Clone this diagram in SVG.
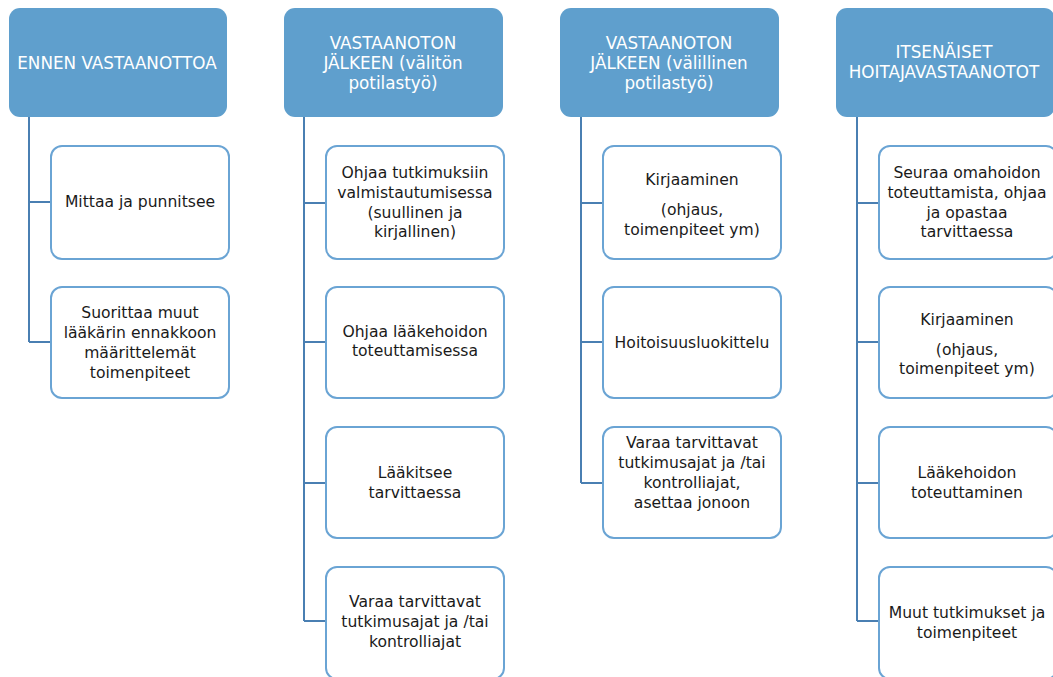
<svg xmlns="http://www.w3.org/2000/svg" width="1053" height="677" viewBox="0 0 1053 677">
<style>
.hdr{fill:#5f9fcd;}
.box{fill:#ffffff;stroke:#6aa4d4;stroke-width:2;}
.ht{font-family:"DejaVu Sans","Liberation Sans",sans-serif;font-size:16.8px;fill:#ffffff;text-anchor:middle;dominant-baseline:central;}
.bt{font-family:"DejaVu Sans","Liberation Sans",sans-serif;font-size:15.6px;fill:#1a1a1a;text-anchor:middle;dominant-baseline:central;}
.con{fill:none;stroke:#4a7fb2;stroke-width:2;}
</style>
<rect width="1053" height="677" fill="#ffffff"/>
<g id="connectors">
<path class="con" d="M29,117 V342 M29,202 H51 M29,342 H51"/>
<path class="con" d="M304,117 V621 M304,203 H326 M304,342 H326 M304,483 H326 M304,621 H326"/>
<path class="con" d="M581,117 V483 M581,203 H603 M581,342 H603 M581,483 H603"/>
<path class="con" d="M857,117 V621 M857,203 H879 M857,342 H879 M857,483 H879 M857,621 H879"/>
</g>
<g id="h1"><rect class="hdr" x="9" y="8" width="218" height="109" rx="11"/>
<text class="ht" x="117" y="63">ENNEN VASTAANOTTOA</text></g>
<g id="h2"><rect class="hdr" x="284" y="8" width="219" height="109" rx="11"/>
<text class="ht" x="393" y="43">VASTAANOTON</text><text class="ht" x="393" y="63">JÄLKEEN (välitön</text><text class="ht" x="393" y="83">potilastyö)</text></g>
<g id="h3"><rect class="hdr" x="560" y="8" width="219" height="109" rx="11"/>
<text class="ht" x="669" y="43">VASTAANOTON</text><text class="ht" x="669" y="63">JÄLKEEN (välillinen</text><text class="ht" x="669" y="83">potilastyö)</text></g>
<g id="h4"><rect class="hdr" x="836" y="8" width="219" height="109" rx="11"/>
<text class="ht" x="944" y="52">ITSENÄISET</text><text class="ht" x="944" y="72">HOITAJAVASTAANOTOT</text></g>

<g id="c1b1"><rect class="box" x="51" y="146" width="178" height="113" rx="11"/>
<text class="bt" x="140" y="202">Mittaa ja punnitsee</text></g>
<g id="c1b2"><rect class="box" x="51" y="287" width="178" height="111" rx="11"/>
<text class="bt" x="140" y="313">Suorittaa muut</text><text class="bt" x="140" y="333">lääkärin ennakkoon</text><text class="bt" x="140" y="353">määrittelemät</text><text class="bt" x="140" y="373">toimenpiteet</text></g>

<g id="c2b1"><rect class="box" x="326" y="146" width="178" height="113" rx="11"/>
<text class="bt" x="415" y="173">Ohjaa tutkimuksiin</text><text class="bt" x="415" y="193">valmistautumisessa</text><text class="bt" x="415" y="213">(suullinen ja</text><text class="bt" x="415" y="232">kirjallinen)</text></g>
<g id="c2b2"><rect class="box" x="326" y="287" width="178" height="111" rx="11"/>
<text class="bt" x="415" y="332">Ohjaa lääkehoidon</text><text class="bt" x="415" y="351">toteuttamisessa</text></g>
<g id="c2b3"><rect class="box" x="326" y="427" width="178" height="111" rx="11"/>
<text class="bt" x="415" y="473">Lääkitsee</text><text class="bt" x="415" y="493">tarvittaessa</text></g>
<g id="c2b4"><rect class="box" x="326" y="567" width="178" height="112" rx="11"/>
<text class="bt" x="415" y="602">Varaa tarvittavat</text><text class="bt" x="415" y="622">tutkimusajat ja /tai</text><text class="bt" x="415" y="642">kontrolliajat</text></g>

<g id="c3b1"><rect class="box" x="603" y="146" width="178" height="113" rx="11"/>
<text class="bt" x="692" y="180">Kirjaaminen</text><text class="bt" x="692" y="210">(ohjaus,</text><text class="bt" x="692" y="230">toimenpiteet ym)</text></g>
<g id="c3b2"><rect class="box" x="603" y="287" width="178" height="111" rx="11"/>
<text class="bt" x="692" y="343">Hoitoisuusluokittelu</text></g>
<g id="c3b3"><rect class="box" x="603" y="427" width="178" height="111" rx="11"/>
<text class="bt" x="692" y="443">Varaa tarvittavat</text><text class="bt" x="692" y="463">tutkimusajat ja /tai</text><text class="bt" x="692" y="483">kontrolliajat,</text><text class="bt" x="692" y="503">asettaa jonoon</text></g>

<g id="c4b1"><rect class="box" x="879" y="146" width="178" height="113" rx="11"/>
<text class="bt" x="967" y="173">Seuraa omahoidon</text><text class="bt" x="967" y="193">toteuttamista, ohjaa</text><text class="bt" x="967" y="213">ja opastaa</text><text class="bt" x="967" y="232">tarvittaessa</text></g>
<g id="c4b2"><rect class="box" x="879" y="287" width="178" height="111" rx="11"/>
<text class="bt" x="967" y="320">Kirjaaminen</text><text class="bt" x="967" y="350">(ohjaus,</text><text class="bt" x="967" y="369">toimenpiteet ym)</text></g>
<g id="c4b3"><rect class="box" x="879" y="427" width="178" height="111" rx="11"/>
<text class="bt" x="967" y="473">Lääkehoidon</text><text class="bt" x="967" y="493">toteuttaminen</text></g>
<g id="c4b4"><rect class="box" x="879" y="567" width="178" height="112" rx="11"/>
<text class="bt" x="967" y="613">Muut tutkimukset ja</text><text class="bt" x="967" y="633">toimenpiteet</text></g>
</svg>
